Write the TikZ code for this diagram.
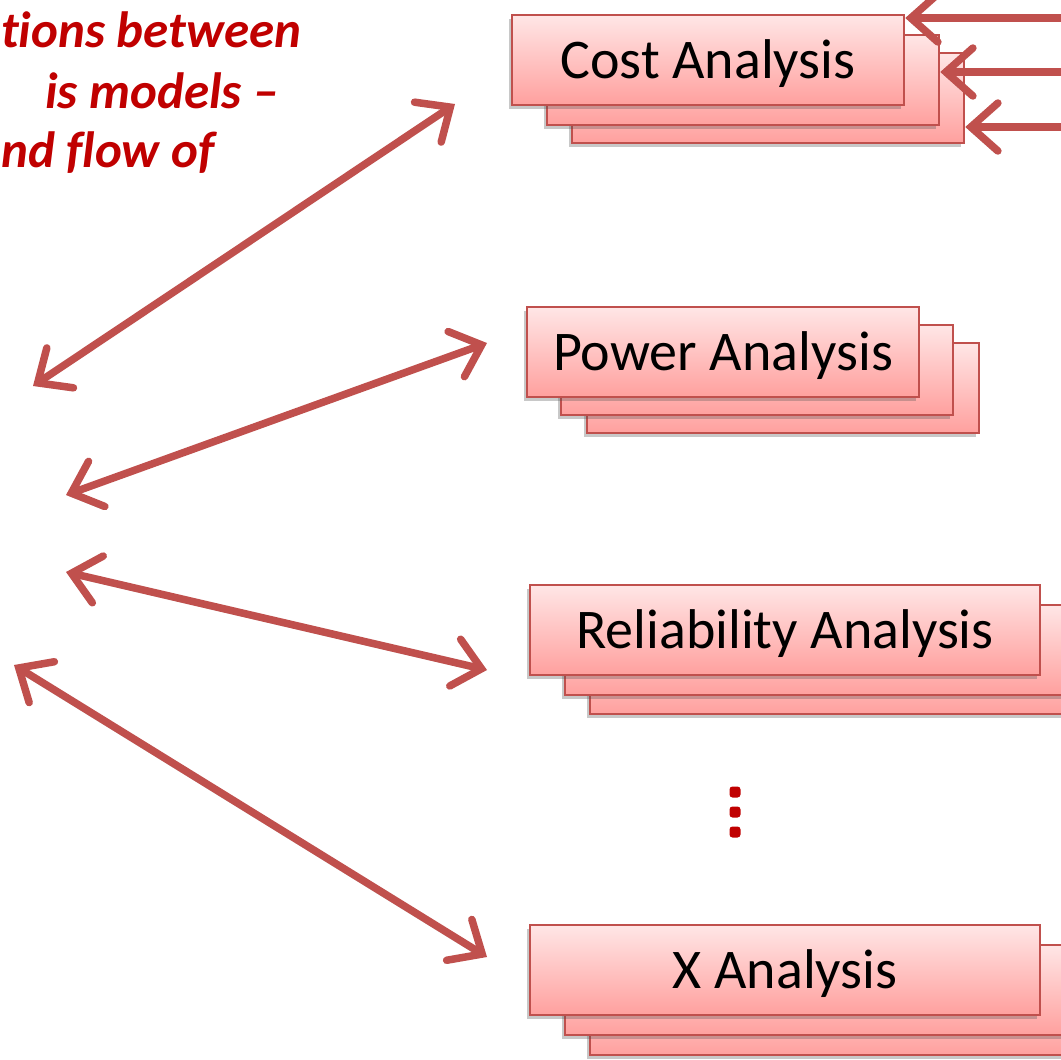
\documentclass[tikz,border=0pt]{standalone}
\usepackage{fontspec}
\setmainfont{Carlito}[Ligatures=NoCommon]
\usetikzlibrary{arrows.meta,shadows,calc}
\definecolor{acc}{RGB}{192,80,77}
\definecolor{dred}{RGB}{192,0,0}
\definecolor{ptop}{RGB}{255,230,230}
\definecolor{pbot}{RGB}{255,160,158}
\tikzset{
  abox/.style={draw=acc, line width=2.5pt, top color=ptop, bottom color=pbot,
    rectangle, inner sep=0pt, minimum height=90pt,
    font=\fontsize{56}{62}\selectfont,
    drop shadow={shadow xshift=-3pt, shadow yshift=-4pt, opacity=0.3, fill=black!70}},
  smallbox/.style={abox, minimum width=392pt},
  widebox/.style={abox, minimum width=510pt},
  boxtext/.style={inner sep=0pt, font=\fontsize{56}{62}\selectfont, yshift=-4pt},
  conn/.style={draw=acc, line width=7.5pt, line cap=round,
    >={Straight Barb[length=27pt,width=48pt,line cap=round,line join=miter]},
    preaction={draw=black, opacity=0.18, transform canvas={shift={(-2pt,-3pt)}}}},
  dotmark/.style={fill=dred, rectangle, rounded corners=3pt, minimum size=11pt, inner sep=0pt},
  hint/.style={text=dred, font=\fontsize{51}{60}\selectfont\bfseries\itshape, anchor=base west, inner sep=0pt}
}
\begin{document}
\begin{tikzpicture}[x=1pt,y=-1pt]
\useasboundingbox (0,0) rectangle (1061,1060);
\clip (0,0) rectangle (1061,1060);
\fill[white] (0,0) rectangle (1061,1060);

% heading fragments
\node[hint] (t1) at (1,47) {tions between};
\node[hint] (t2) at (45,108) {is models –};
\node[hint] (t3) at (1,167) {nd flow of};

% Cost
\node[smallbox] (cb) at (768,98) {};
\node[smallbox] (cm) at (743,80) {};
\node[smallbox] (cf) at (708,60) {};
\node[boxtext] (ct) at (cf) {Cost Analysis};

% Power
\node[smallbox] (pb) at (783,388) {};
\node[smallbox] (pm) at (757,370) {};
\node[smallbox] (pf) at (723,352) {};
\node[boxtext] (pt) at (pf) {Power Analysis};

% Reliability
\node[widebox] (rb) at (845,669) {};
\node[widebox] (rm) at (820,650) {};
\node[widebox] (rf) at (785,630) {};
\node[boxtext] (rt) at (rf) {Reliability Analysis};

% X
\node[widebox] (xb) at (845,1010) {};
\node[widebox] (xm) at (820,990) {};
\node[widebox] (xf) at (785,970) {};
\node[boxtext] (xt) at (xf) {X Analysis};

% dots
\node[dotmark] (d1) at (735,792) {};
\node[dotmark] (d2) at (735,812) {};
\node[dotmark] (d3) at (735,832) {};

% incoming arrows on the right
\coordinate (r1) at (1075,18);
\coordinate (r2) at (1075,72);
\coordinate (r3) at (1075,127);
\draw[conn,->] (r1) -- (r1 -| cf.east);
\draw[conn,->] (r2) -- (r2 -| cm.east);
\draw[conn,->] (r3) -- (r3 -| cb.east);

% double arrows on the left
\coordinate (l1) at (33,386);  \coordinate (e1) at (455,104);
\coordinate (l2) at (66,495);  \coordinate (e2) at (487,343);
\coordinate (l3) at (66,572);  \coordinate (e3) at (487,670);
\coordinate (l4) at (14,665);  \coordinate (e4) at (487,957);
\draw[conn,<->] (l1) -- (e1);
\draw[conn,<->] (l2) -- (e2);
\draw[conn,<->] (l3) -- (e3);
\draw[conn,<->] (l4) -- (e4);
\end{tikzpicture}
\end{document}
